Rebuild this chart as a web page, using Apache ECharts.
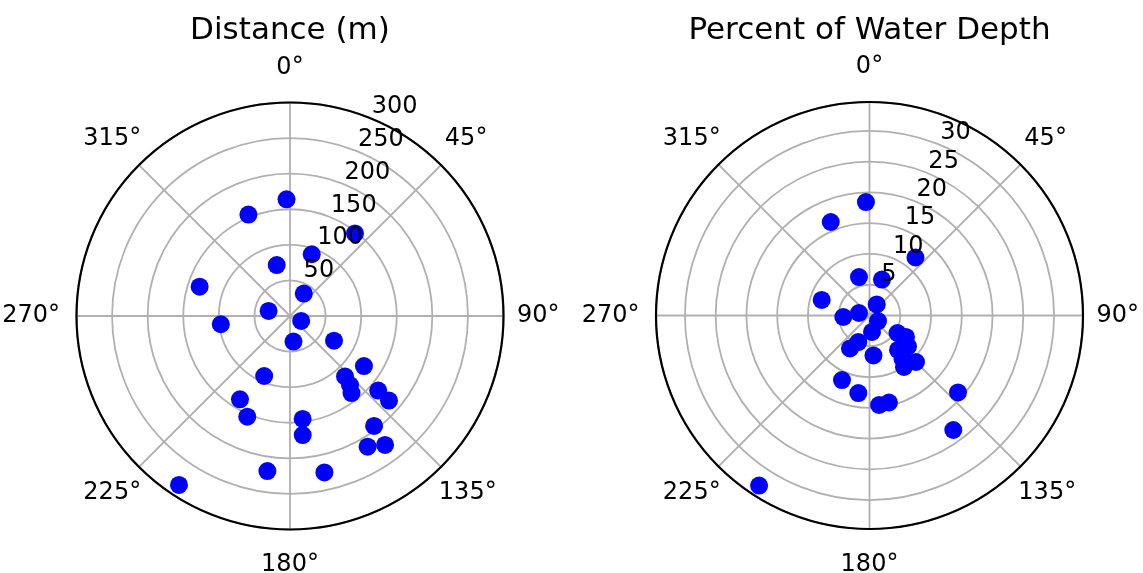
<!DOCTYPE html>
<html>
<head>
<meta charset="utf-8">
<script src="https://cdn.jsdelivr.net/npm/echarts@6/dist/echarts.min.js"></script>
<style>html,body{margin:0;padding:0;background:#fff}#c{width:1143px;height:573px}</style>
</head>
<body>
<div id="c"></div>
<script>
// ---- data (angle in degrees clockwise from north, radial value) ----
const titles = ['Distance (m)', 'Percent of Water Depth'];
const angleTicks = [0, 45, 90, 135, 180, 225, 270, 315];

const distAngles = [358.3, 337.7, 38.2, 19.4, 345.4, 288, 31.6, 283.2, 263.2, 114, 172.2, 119.3, 124.1, 203.3,
  137.7, 139, 141.4, 130.2, 130.5, 173, 173.9, 142.6, 149.3, 143.6, 167.6, 211, 203, 188.3, 213.3];
const distValues = [164, 154, 147.6, 92, 74, 133.5, 37, 30.9, 97.9, 17.2, 36.2, 70.9, 125.5, 91.8,
  114.9, 128.5, 138.5, 162.3, 182.9, 145.8, 168.2, 194.5, 213.6, 225.1, 225.1, 136.5, 153.7, 220.2, 284.1];
const distTicks = [50, 100, 150, 200, 250, 300];

const pctAngles = [358.2, 337.5, 38.4, 344.7, 19.1, 288, 33.2, 266.7, 283.4, 122.9, 171.4, 202.9, 210.6, 174.3,
  122, 120.5, 128.8, 140.4, 142.8, 146.2, 135, 203.1, 188.2, 173.9, 167.4, 131, 143.8, 213];
const pctValues = [18.45, 16.45, 12.03, 6.48, 6.19, 8.17, 2.14, 4.26, 1.76, 1.65, 2.71, 4.68, 6.23, 6.53,
  5.37, 6.88, 8.03, 7.27, 8.87, 10.07, 10.69, 11.4, 12.73, 14.63, 14.49, 19.06, 23.06, 32.95];
const pctTicks = [5, 10, 15, 20, 25, 30];

const distMax = 300, pctMax = 34.7;

// ---- chart ----
const FONT = 'DejaVu Sans';
const GRID = '#b0b0b0';
const centers = [[290, 316], [869.5, 315.5]];
const R = 213.5;

// per-angle label padding [top, right, bottom, left] (pushes labels outward)
const labelPad = {
  0: [0, 0, 26, 0], 45: [0, 0, 16, 6], 90: [0, 0, 0, 16.5], 135: [16, 0, 0, 0],
  180: [26.5, 0, 0, 0], 225: [16, 0, 0, 0], 270: [0, 19.5, 0, 0], 315: [0, 0, 16, 0]
};
const rich = {};
angleTicks.forEach(a => {
  rich['a' + a] = {fontFamily: FONT, fontSize: 24, color: '#000', padding: labelPad[a]};
});

function pairs(rs, as) { return rs.map((r, i) => [r, as[i]]); }

const polar = [], angleAxis = [], radiusAxis = [], series = [], title = [];
const sets = [
  {max: distMax, interval: 50, ticks: distTicks, data: pairs(distValues, distAngles)},
  {max: pctMax, interval: 5, ticks: pctTicks, data: pairs(pctValues, pctAngles)}
];
sets.forEach((s, k) => {
  title.push({text: titles[k], left: centers[k][0] - 5, top: 10, textAlign: 'center',
    textStyle: {fontFamily: FONT, fontSize: 31, fontWeight: 'normal', color: '#000'}});
  // main polar: angle grid + data
  polar.push({center: centers[k], radius: R});
  angleAxis.push({
    polarIndex: 2 * k, type: 'value', min: 0, max: 360, interval: 45, startAngle: 90, clockwise: true,
    axisLine: {show: true, lineStyle: {color: '#000', width: 2.2}},
    axisTick: {show: false},
    axisLabel: {show: true, margin: -3, fontFamily: FONT, fontSize: 24, color: '#000', rich,
      formatter: v => angleTicks.indexOf(v) >= 0 ? '{a' + v + '|' + v + '°}' : ''},
    splitLine: {show: true, lineStyle: {color: GRID, width: 1.8}}
  });
  radiusAxis.push({
    polarIndex: 2 * k, type: 'value', min: 0, max: s.max, interval: s.interval,
    axisLine: {show: false}, axisTick: {show: false}, axisLabel: {show: false},
    splitLine: {show: true, lineStyle: {color: GRID, width: 1.8}}
  });
  // helper polar rotated 22.5deg for radial labels
  polar.push({center: centers[k], radius: R});
  angleAxis.push({
    polarIndex: 2 * k + 1, type: 'value', min: 0, max: 360, startAngle: 67.5, clockwise: true, show: false,
    axisLine: {show: false}, axisTick: {show: false}, axisLabel: {show: false}, splitLine: {show: false}
  });
  radiusAxis.push({
    polarIndex: 2 * k + 1, type: 'value', min: 0, max: s.max, interval: s.interval, z: 5,
    axisLine: {show: false}, axisTick: {show: false}, splitLine: {show: false},
    axisLabel: {show: true, margin: 0, align: 'left', verticalAlign: 'bottom', showMinLabel: true, showMaxLabel: true,
      fontFamily: FONT, fontSize: 24, color: '#000',
      formatter: v => s.ticks.indexOf(Math.round(v * 1000) / 1000) >= 0 ? String(v) : ''}
  });
  series.push({type: 'scatter', coordinateSystem: 'polar', polarIndex: 2 * k,
    symbol: 'circle', symbolSize: 18, itemStyle: {color: '#0000ff', opacity: 1},
    data: s.data, z: 3});
});

const chart = echarts.init(document.getElementById('c'), null, {renderer: 'canvas'});
chart.setOption({animation: false, backgroundColor: '#fff', title, polar, angleAxis, radiusAxis, series});
</script>
</body>
</html>
